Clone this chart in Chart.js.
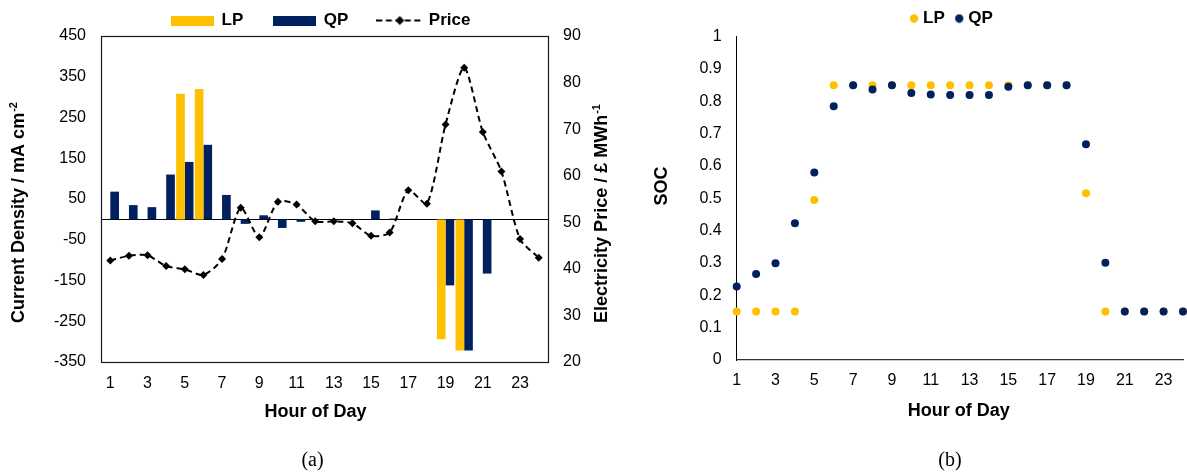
<!DOCTYPE html>
<html><head><meta charset="utf-8">
<script src="https://cdn.jsdelivr.net/npm/chart.js@4.4.1/dist/chart.umd.min.js"></script>
<style>
html,body{margin:0;padding:0;background:#fff;overflow:hidden;width:1187px;height:474px;position:relative;}
#wrapA{position:absolute;left:0;top:-19px;width:625px;height:493px;}
#wrapB{position:absolute;left:625px;top:-4px;width:657px;height:478px;}
.cap{position:absolute;font-family:'Liberation Serif','Times New Roman',serif;font-size:20px;line-height:20px;top:449px;width:60px;text-align:center;color:#000;}
</style></head><body>
<div id="wrapA"><canvas id="ca" width="625" height="493" style="width:625px;height:493px"></canvas></div>
<div id="wrapB"><canvas id="cb" width="657" height="478" style="width:657px;height:478px"></canvas></div>
<div class="cap" style="left:282.5px">(a)</div>
<div class="cap" style="left:920px">(b)</div>
<script>
// ---------- data ----------
const hours = ['1','2','3','4','5','6','7','8','9','10','11','12','13','14','15','16','17','18','19','20','21','22','23','24'];
const shownHours = ['1','3','5','7','9','11','13','15','17','19','21','23'];
const lpCurrent = [0,0,0,0,308,320,0,0,0,0,0,0,0,0,0,0,0,0,-294,-322,0,0,0,0];
const qpCurrent = [68,35,30,110,141,183,60,-11,10,-21,-6,0,0,0,22,2,0,0,-162,-322,-133,0,0,0];
const price = [41.8,42.8,42.9,40.6,39.9,38.7,42.1,53.1,46.8,54.4,53.8,50.2,50.2,49.8,47.1,47.8,56.9,54.0,71.0,83.2,69.4,60.9,46.4,42.4];
const lpSoc = [0.15,0.15,0.15,0.15,0.495,0.85,0.85,0.85,0.85,0.85,0.85,0.85,0.85,0.85,0.85,0.85,0.85,0.85,0.516,0.15,0.15,0.15,0.15,0.15];
const qpSoc = [0.227,0.266,0.299,0.423,0.58,0.785,0.85,0.837,0.85,0.826,0.821,0.82,0.82,0.82,0.845,0.85,0.85,0.85,0.667,0.301,0.15,0.15,0.15,0.15];
const currentRange = [-350, 450, 100];
const priceRange = [20, 90, 10];
const socRange = [0, 1, 0.1];

// ---------- styling ----------
const YELLOW = '#FFC000', NAVY = '#002060';
const FAMILY = '"Liberation Sans", Arial, Helvetica, sans-serif';
Chart.defaults.font.family = FAMILY;
Chart.defaults.font.size = 16;
Chart.defaults.color = '#000';

function boxIcon(color, w, h) {
  const c = document.createElement('canvas'); c.width = w; c.height = h;
  const g = c.getContext('2d'); g.fillStyle = color; g.fillRect(0, 0, w, h); return c;
}
function lineIcon() {
  const c = document.createElement('canvas'); c.width = 47; c.height = 12;
  const g = c.getContext('2d');
  g.strokeStyle = '#000'; g.lineWidth = 2; g.setLineDash([6, 3.5]);
  g.beginPath(); g.moveTo(0, 6); g.lineTo(47, 6); g.stroke();
  g.setLineDash([]); g.fillStyle = '#000';
  g.beginPath(); g.moveTo(23.5, 1.5); g.lineTo(28, 6); g.lineTo(23.5, 10.5); g.lineTo(19, 6); g.closePath(); g.fill();
  return c;
}
function dotIcon(color) {
  const c = document.createElement('canvas'); c.width = 10; c.height = 10;
  const g = c.getContext('2d'); g.fillStyle = color;
  g.beginPath(); g.arc(5, 5, 4.2, 0, Math.PI * 2); g.fill(); return c;
}
function vTitle(ctx, x, cy, main, sup) {
  ctx.save();
  ctx.translate(x, cy); ctx.rotate(-Math.PI / 2);
  ctx.fillStyle = '#000'; ctx.textAlign = 'left'; ctx.textBaseline = 'alphabetic';
  ctx.font = 'bold 18px ' + FAMILY; const wm = ctx.measureText(main).width;
  ctx.font = 'bold 11px ' + FAMILY; const ws = sup ? ctx.measureText(sup).width + 1 : 0;
  const start = -(wm + ws) / 2;
  ctx.font = 'bold 18px ' + FAMILY; ctx.fillText(main, start, 0);
  if (sup) { ctx.font = 'bold 11px ' + FAMILY; ctx.fillText(sup, start + wm + 1, -7); }
  ctx.restore();
}
function hTitle(ctx, cx, baseY, text) {
  ctx.save();
  ctx.fillStyle = '#000'; ctx.textAlign = 'center'; ctx.textBaseline = 'alphabetic';
  ctx.font = 'bold 18px ' + FAMILY; ctx.fillText(text, cx, baseY);
  ctx.restore();
}
const oddTick = function (val, i) { const l = this.getLabelForValue(val); return shownHours.includes(l) ? l : ''; };
const plainNum = v => String(Number(Number(v).toFixed(2)));

// ---------- chart (a) ----------
const iconsA = [boxIcon(YELLOW, 43, 10), boxIcon(NAVY, 43, 10), lineIcon()];
const plugA = {
  id: 'plugA',
  beforeDatasetsDraw(chart) {
    const {ctx, chartArea: a, scales} = chart;
    const y0 = Math.round(scales.y.getPixelForValue(0)) + 0.5;
    ctx.save(); ctx.strokeStyle = '#000'; ctx.lineWidth = 1;
    ctx.beginPath(); ctx.moveTo(a.left, y0); ctx.lineTo(a.right, y0); ctx.stroke(); ctx.restore();
  },
  afterDatasetsDraw(chart) {
    const {ctx, chartArea: a} = chart;
    ctx.save(); ctx.strokeStyle = '#1a1a1a'; ctx.lineWidth = 1.2;
    ctx.strokeRect(Math.round(a.left) + 0.5, Math.round(a.top) + 0.5, Math.round(a.right - a.left), Math.round(a.bottom - a.top));
    ctx.restore();
  },
  afterDraw(chart) {
    const ctx = chart.ctx;
    vTitle(ctx, 24, 231.5, 'Current Density / mA cm', '-2');
    vTitle(ctx, 607, 232.5, 'Electricity Price / \u00A3 MWh', '-1');
    hTitle(ctx, 315.5, 435.5, 'Hour of Day');
  }
};
new Chart(document.getElementById('ca'), {
  type: 'bar',
  data: {
    labels: hours,
    datasets: [
      {type: 'bar', label: 'LP', data: lpCurrent, backgroundColor: YELLOW, yAxisID: 'y', barPercentage: 1, categoryPercentage: 0.93},
      {type: 'bar', label: 'QP', data: qpCurrent, backgroundColor: NAVY, yAxisID: 'y', barPercentage: 1, categoryPercentage: 0.93},
      {type: 'line', label: 'Price', data: price, yAxisID: 'y1', borderColor: '#000', borderWidth: 2, borderDash: [6, 4],
       pointStyle: 'rectRot', pointRadius: 4, pointBackgroundColor: '#000', pointBorderWidth: 0, tension: 0.25, fill: false, order: -1}
    ]
  },
  options: {
    responsive: false, animation: false, events: [],
    layout: {padding: {left: 17.4, right: 0, top: 0, bottom: 0}},
    plugins: {
      tooltip: {enabled: false},
      legend: {
        position: 'top', align: 'center', maxHeight: 55,
        labels: {
          usePointStyle: true, pointStyleWidth: 41, padding: 31,
          font: {size: 17, weight: 'bold'}, color: '#000',
          generateLabels: chart => chart.data.datasets.map((ds, i) => ({
            text: ds.label, pointStyle: iconsA[i], fillStyle: 'rgba(0,0,0,0)', strokeStyle: 'rgba(0,0,0,0)',
            lineWidth: 0, hidden: false, datasetIndex: i, fontColor: '#000'
          }))
        }
      }
    },
    scales: {
      x: {
        type: 'category', offset: true,
        grid: {display: false, drawTicks: false}, border: {display: false},
        ticks: {autoSkip: false, maxRotation: 0, minRotation: 0, padding: 12, font: {size: 16}, callback: oddTick},
        afterFit: s => { s.height = 112; }
      },
      y: {
        position: 'left', min: currentRange[0], max: currentRange[1],
        grid: {display: false, drawTicks: false}, border: {display: false},
        ticks: {stepSize: currentRange[2], padding: 15, font: {size: 16}, callback: plainNum},
        afterFit: s => { s.width = 83.6; }
      },
      y1: {
        position: 'right', min: priceRange[0], max: priceRange[1],
        grid: {display: false, drawTicks: false}, border: {display: false},
        ticks: {stepSize: priceRange[2], padding: 15, font: {size: 16}, callback: plainNum},
        afterFit: s => { s.width = 77; }
      }
    }
  },
  plugins: [plugA]
});

// ---------- chart (b) ----------
const iconsB = [dotIcon(YELLOW), dotIcon(NAVY)];
const plugB = {
  id: 'plugB',
  afterDraw(chart) {
    const ctx = chart.ctx;
    vTitle(ctx, 41.5, 190, 'SOC', '');
    hTitle(ctx, 333.8, 420, 'Hour of Day');
  }
};
new Chart(document.getElementById('cb'), {
  type: 'line',
  data: {
    labels: hours,
    datasets: [
      {label: 'LP', data: lpSoc, showLine: false, pointRadius: 4, pointBorderWidth: 0, pointBackgroundColor: YELLOW, backgroundColor: YELLOW, borderColor: YELLOW, order: 1, clip: false},
      {label: 'QP', data: qpSoc, showLine: false, pointRadius: 4, pointBorderWidth: 0, pointBackgroundColor: NAVY, backgroundColor: NAVY, borderColor: NAVY, order: 0, clip: false}
    ]
  },
  options: {
    responsive: false, animation: false, events: [],
    layout: {padding: {left: 0, right: 0.7, top: 0, bottom: 0}},
    plugins: {
      tooltip: {enabled: false},
      legend: {
        position: 'top', align: 'center', maxHeight: 40.7,
        labels: {
          usePointStyle: true, pointStyleWidth: 1, padding: 14,
          font: {size: 17, weight: 'bold'}, color: '#000',
          generateLabels: chart => chart.data.datasets.map((ds, i) => ({
            text: ds.label, pointStyle: iconsB[i], fillStyle: 'rgba(0,0,0,0)', strokeStyle: 'rgba(0,0,0,0)',
            lineWidth: 0, hidden: false, datasetIndex: i, fontColor: '#000'
          }))
        }
      }
    },
    scales: {
      x: {
        type: 'category', offset: false,
        grid: {display: false, drawTicks: false}, border: {display: true, color: '#333', width: 1.3},
        ticks: {autoSkip: false, maxRotation: 0, minRotation: 0, padding: 11, font: {size: 16}, callback: oddTick},
        afterFit: s => { s.height = 114; }
      },
      y: {
        position: 'left', min: socRange[0], max: socRange[1],
        grid: {display: false, drawTicks: false}, border: {display: true, color: '#000', width: 1},
        ticks: {stepSize: socRange[2], padding: 15, font: {size: 16}, callback: plainNum},
        afterFit: s => { s.width = 111.7; }
      },
      yPad: {
        position: 'right', min: 0, max: 1,
        grid: {display: false, drawTicks: false}, border: {display: false},
        ticks: {display: false},
        afterFit: s => { s.width = 98.3; }
      }
    }
  },
  plugins: [plugB]
});
</script>
</body></html>
